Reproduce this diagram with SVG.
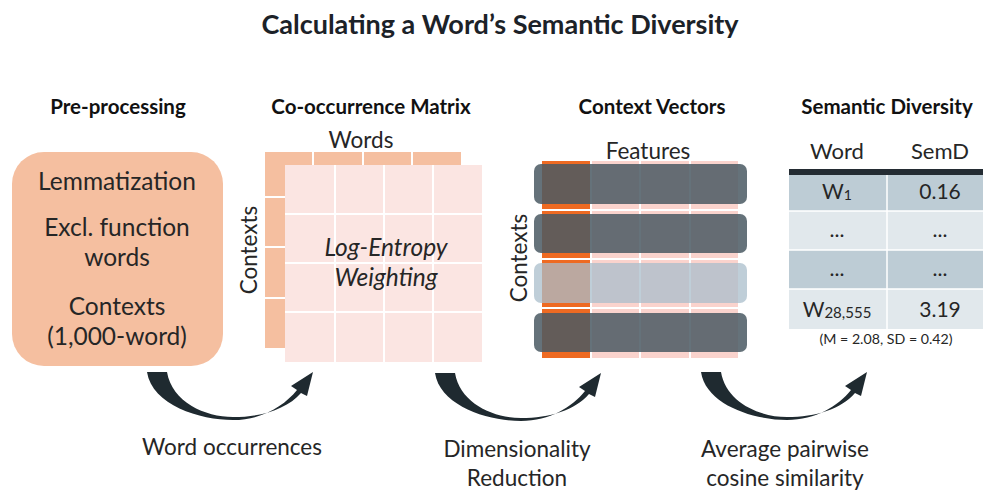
<svg xmlns="http://www.w3.org/2000/svg" width="983" height="490" viewBox="0 0 983 490">
<style>
text{font-family:Lato,"Open Sans","Liberation Sans",sans-serif;fill:#262626}
.title{font-size:27px;font-weight:bold;text-anchor:middle;fill:#1c2228}
.hdr{font-size:20.5px;font-weight:bold;text-anchor:middle;fill:#111}
.body{font-size:24.5px;text-anchor:middle}
.th{font-size:22px;text-anchor:middle}
.ital{font-size:24.5px;font-style:italic;text-anchor:middle}
.lbl{font-size:22.5px;text-anchor:middle}
.cell{font-size:21px;text-anchor:middle}
.note{font-size:14.2px;text-anchor:middle}
.salmon{fill:#F5BFA0}
.pink{fill:#FBE5E2}
.grid{stroke:#fff;stroke-width:2;fill:none}
.bar{fill:#4A5963;fill-opacity:0.85}
.barl{fill:#A9BDCB;fill-opacity:0.75}
.arrow{fill:#1f2a30}
</style>
<defs>
<path id="crescent" d="M147,372 C152,405 200,420 233,420 C262,420 284,406 297,390 L291,386 L313,372 L307,396 L301,393 C287,409 262,417 233,417 C205,417 172,402 167,372 Z"/>
</defs>
<rect width="983" height="490" fill="#fff"/>
<text class="title" x="500" y="34">Calculating a Word’s Semantic Diversity</text>

<g id="preprocessing">
<text class="hdr" x="118" y="114">Pre-processing</text>
<rect class="salmon" x="12" y="152" width="211" height="214" rx="32"/>
<text class="body" x="117" y="190">Lemmatization</text>
<text class="body" x="117" y="236">Excl. function</text>
<text class="body" x="117" y="266">words</text>
<text class="body" x="117" y="315">Contexts</text>
<text class="body" x="117" y="345">(1,000-word)</text>
</g>

<g id="cooccurrence">
<text class="hdr" x="371" y="114">Co-occurrence Matrix</text>
<text class="lbl" x="361" y="148">Words</text>
<text class="lbl" transform="translate(257,250) rotate(-90)">Contexts</text>
<rect class="salmon" x="265" y="152" width="196" height="196"/>
<path class="grid" d="M313,152V165M363,152V165M412,152V165M265,197H285M265,247H285M265,298H285"/>
<rect class="pink" x="285" y="165" width="197" height="197"/>
<path class="grid" d="M335,165V362M384,165V362M433,165V362M285,214H482M285,263H482M285,312H482"/>
<text class="ital" x="386" y="256">Log-Entropy</text>
<text class="ital" x="386" y="286">Weighting</text>
</g>

<g id="contextvectors">
<text class="hdr" x="652" y="114">Context Vectors</text>
<text class="lbl" x="648" y="159">Features</text>
<text class="lbl" transform="translate(527,258) rotate(-90)">Contexts</text>
<rect x="590" y="161" width="148" height="197" fill="#FAD3CD"/>
<rect x="542" y="161" width="48" height="197" fill="#EE6A22"/>
<path class="grid" d="M591,161V358M640,161V358M690,161V358M542,210H738M542,259H738M542,308H738"/>
<rect class="bar" x="534" y="164" width="213" height="40" rx="7"/>
<rect class="bar" x="534" y="214" width="213" height="39" rx="7"/>
<rect class="barl" x="534" y="263" width="213" height="40" rx="7"/>
<rect class="bar" x="534" y="313" width="213" height="39" rx="7"/>
</g>

<g id="semanticdiversity">
<text class="hdr" x="887" y="114">Semantic Diversity</text>
<text class="th" x="837" y="159">Word</text>
<text class="th" x="940" y="159">SemD</text>
<rect x="789" y="169" width="194" height="6" fill="#242c33"/>
<rect x="789" y="175" width="194" height="36" fill="#BDCCD5"/>
<rect x="789" y="211" width="194" height="39" fill="#E1E8EC"/>
<rect x="789" y="250" width="194" height="39" fill="#BDCCD5"/>
<rect x="789" y="289" width="194" height="40" fill="#E1E8EC"/>
<path d="M789,211H983M789,250H983M789,289H983M887,175V329" stroke="#fff" stroke-width="1.5"/>
<text class="cell" x="837" y="199">W<tspan font-size="14" dy="1">1</tspan></text>
<text class="cell" x="940" y="199">0.16</text>
<text class="cell" x="837" y="237">...</text>
<text class="cell" x="940" y="237">...</text>
<text class="cell" x="837" y="276">...</text>
<text class="cell" x="940" y="276">...</text>
<text class="cell" x="837" y="317">W<tspan font-size="15" dy="1">28,555</tspan></text>
<text class="cell" x="940" y="317">3.19</text>
<text class="note" x="886" y="344">(M = 2.08, SD = 0.42)</text>
</g>

<g id="connectors">
<use href="#crescent" class="arrow"/>
<use href="#crescent" class="arrow" transform="translate(288,1)"/>
<use href="#crescent" class="arrow" transform="translate(554,0)"/>
<text class="lbl" x="232" y="455">Word occurrences</text>
<text class="lbl" x="517" y="457">Dimensionality</text>
<text class="lbl" x="517" y="486">Reduction</text>
<text class="lbl" x="785" y="457">Average pairwise</text>
<text class="lbl" x="785" y="486">cosine similarity</text>
</g>
</svg>
